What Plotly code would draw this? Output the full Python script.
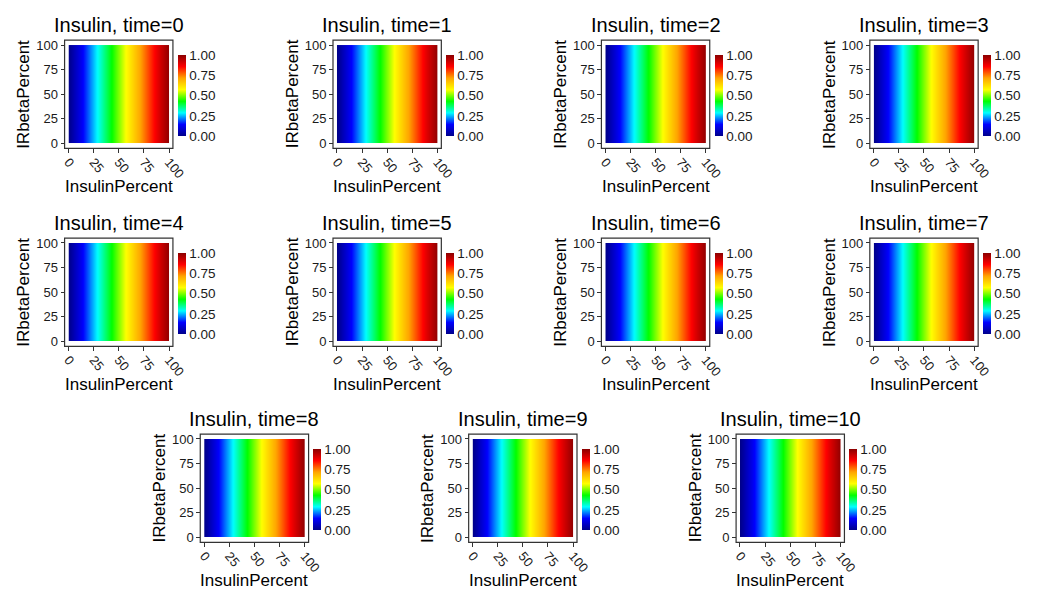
import plotly.graph_objects as go

W, H = 1043, 603

# ---- data ----
times = [0, 1, 2, 3, 4, 5, 6, 7, 8, 9, 10]
insulin_percent = [0, 10, 20, 30, 40, 50, 60, 70, 80, 90, 100]
irbeta_percent = [0, 100]
# insulin level along InsulinPercent (same for every IRbetaPercent, every time)
insulin_level = [0.0, 0.1, 0.2, 0.3, 0.4, 0.5, 0.6, 0.7, 0.8, 0.9, 1.0]
axis_ticks = [0, 25, 50, 75, 100]
colorbar_ticks = [0.0, 0.25, 0.5, 0.75, 1.0]

colorscale = [
    [0 / 7, "#00008B"], [1 / 7, "#0000FF"], [2 / 7, "#00FFFF"], [3 / 7, "#00FF00"],
    [4 / 7, "#FFFF00"], [5 / 7, "#FFA500"], [6 / 7, "#FF0000"], [7 / 7, "#8B0000"],
]

FONT = "Liberation Sans, Arial, sans-serif"
TXT = "#1a1a1a"

# ---- layout in pixels (heatmap area top-left) ----
row_lefts = [[63, 338, 613, 888], [63, 338, 613, 888], [202, 477, 751]]
row_tops = [39, 242, 443]
PW, PH = 103, 101  # heatmap area size


def px(x):
    return x / W


def py(y):
    return 1 - y / H


positions = []
for r, lefts in enumerate(row_lefts):
    for left in lefts:
        positions.append((left, row_tops[r]))

fig = go.Figure()
shapes = []
annotations = []
layout = {}

for i, t in enumerate(times):
    left, top = positions[i]
    n = i + 1
    xa = "x" if n == 1 else f"x{n}"
    ya = "y" if n == 1 else f"y{n}"
    fig.add_trace(go.Heatmap(
        x=insulin_percent, y=irbeta_percent,
        z=[insulin_level for _ in irbeta_percent],
        zmin=0, zmax=1, zsmooth="best",
        colorscale=colorscale, xaxis=xa, yaxis=ya,
        colorbar=dict(
            x=px(left + PW + 9), xanchor="left", xpad=0,
            y=py(top + 52), yanchor="middle", ypad=0,
            lenmode="pixels", len=81, thickness=8, thicknessmode="pixels",
            outlinewidth=0, tickvals=colorbar_ticks, tickformat=".2f",
            ticks="", tickfont=dict(family=FONT, size=13.5, color=TXT),
        ),
        hoverinfo="skip",
    ))
    xkey = "xaxis" if n == 1 else f"xaxis{n}"
    ykey = "yaxis" if n == 1 else f"yaxis{n}"
    layout[xkey] = dict(
        domain=[px(left), px(left + PW)], range=[0, 100], anchor="free",
        position=py(top + PH + 5), tickvals=axis_ticks, ticks="outside",
        ticklen=4, tickcolor="#333", tickwidth=1, showgrid=False,
        zeroline=False, showline=False, tickangle=50, ticklabelstandoff=-4,
        tickfont=dict(family=FONT, size=13, color=TXT),
    )
    layout[ykey] = dict(
        domain=[py(top + PH), py(top)], range=[0, 100], anchor="free",
        position=px(left - 4), tickvals=axis_ticks, ticks="outside",
        ticklen=4, tickcolor="#333", tickwidth=1, showgrid=False,
        zeroline=False, showline=False,
        tickfont=dict(family=FONT, size=13, color=TXT),
    )
    shapes.append(dict(
        type="rect", xref="paper", yref="paper",
        x0=px(left - 4), x1=px(left + PW + 4), y0=py(top + PH + 5), y1=py(top - 5),
        line=dict(color="#333", width=1.2), fillcolor="rgba(0,0,0,0)",
    ))
    cx = left + PW / 2
    annotations.append(dict(
        text=f"Insulin, time={t}", xref="paper", yref="paper",
        x=px(cx), y=py(top - 21), xanchor="center", yanchor="middle",
        showarrow=False, font=dict(family=FONT, size=20, color="black"),
    ))
    annotations.append(dict(
        text="InsulinPercent", xref="paper", yref="paper",
        x=px(cx), y=py(top + 145), xanchor="center", yanchor="middle",
        showarrow=False, font=dict(family=FONT, size=17, color="black"),
    ))
    annotations.append(dict(
        text="IRbetaPercent", xref="paper", yref="paper", textangle=-90,
        x=px(left - 46), y=py(top + PH / 2), xanchor="center", yanchor="middle",
        showarrow=False, font=dict(family=FONT, size=17, color="black"),
    ))

fig.update_layout(
    width=W, height=H, margin=dict(l=0, r=0, t=0, b=0),
    paper_bgcolor="white", plot_bgcolor="white",
    shapes=shapes, annotations=annotations, showlegend=False,
    **layout,
)

fig.write_html("out.html")
